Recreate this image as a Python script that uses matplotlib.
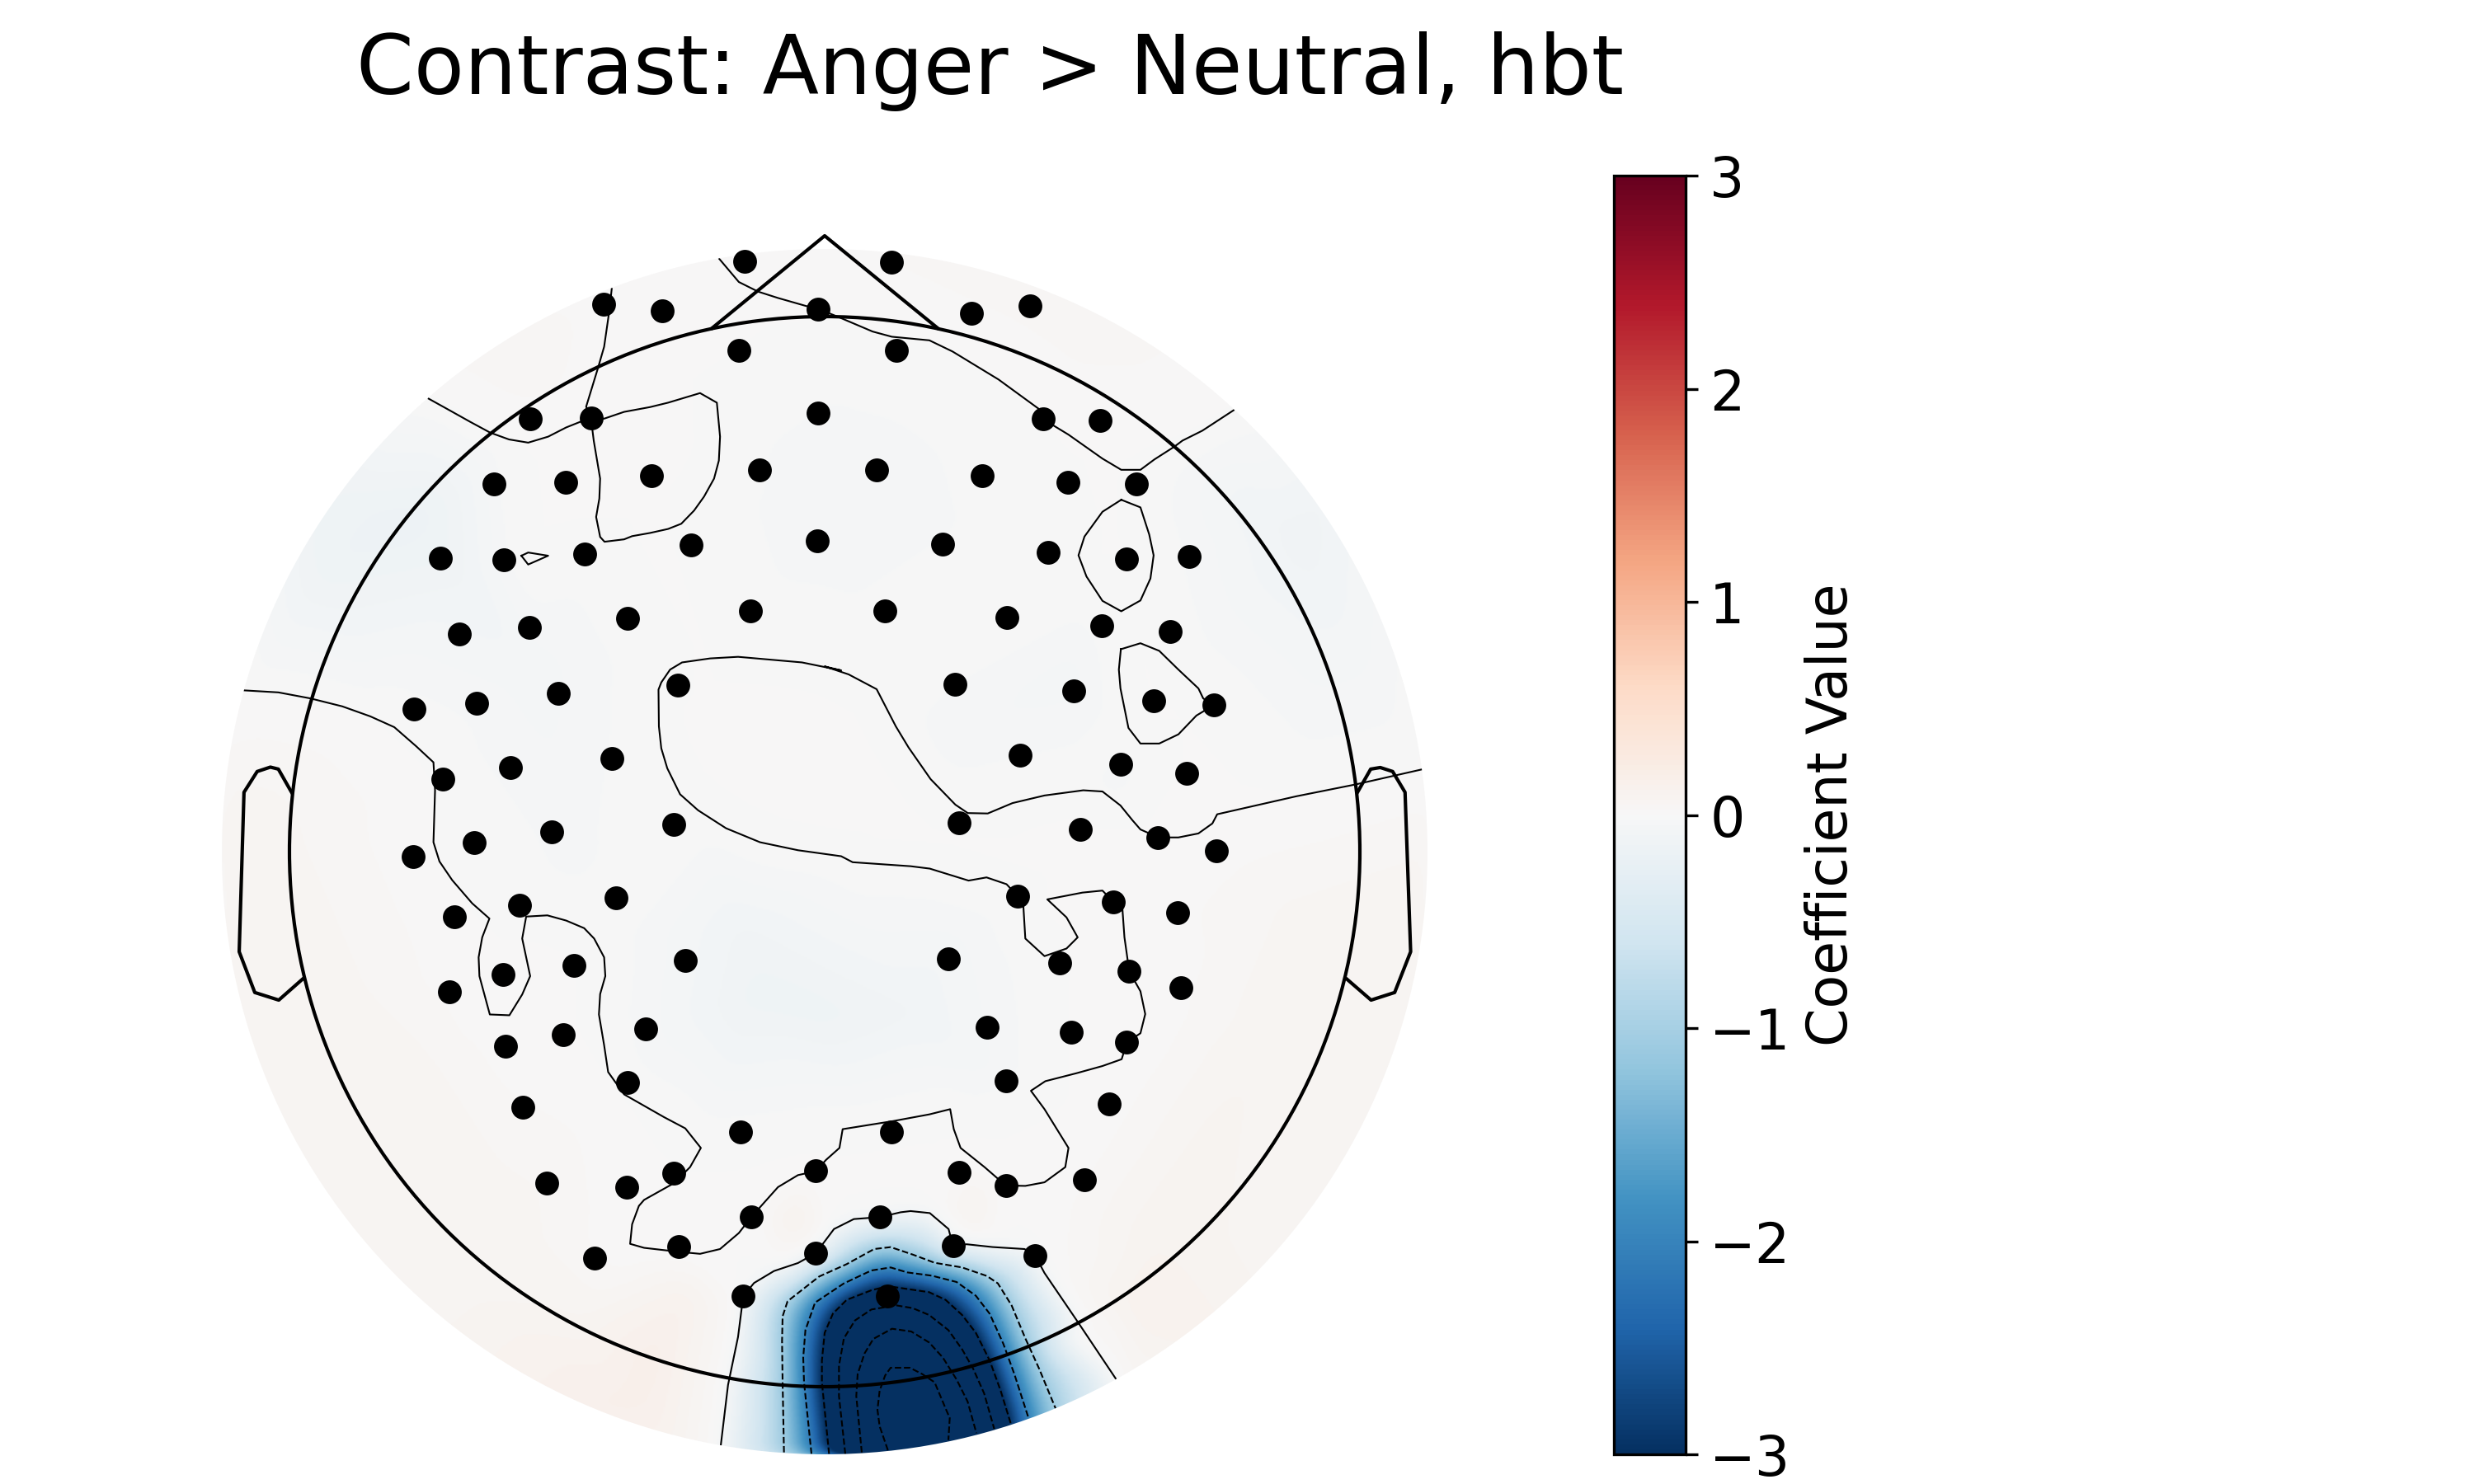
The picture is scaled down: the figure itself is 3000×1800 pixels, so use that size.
import numpy as np
import matplotlib
matplotlib.use("Agg")
import matplotlib.pyplot as plt
import matplotlib.tri as mtri
from matplotlib.cm import ScalarMappable
from matplotlib.colors import Normalize
from matplotlib.patches import Circle

TL = (260, 280)
TR = (1000, 280)
BL = (260, 1040)
BR = (1000, 1040)
QUAD_SCALE = 760 / 1568

sensors_tl = [(1327, 77), (973, 183), (1121, 200), (1510, 195), (1312, 299), (791, 471), (942, 469), (1511, 455),
              (700, 634), (878, 630), (1094, 613), (1364, 599), (566, 820), (724, 823), (927, 808), (1193, 786),
              (1509, 776), (613, 1009), (789, 993), (1034, 970), (1341, 951), (499, 1197), (657, 1183), (861, 1158),
              (1160, 1137), (572, 1371), (741, 1344), (995, 1321), (1150, 1486), (843, 1505), (649, 1531), (497, 1565)]
sensors_tr = [(168, 79), (368, 207), (513, 188), (180, 300), (546, 471), (690, 475), (129, 599), (395, 613),
              (608, 630), (779, 634), (296, 785), (560, 805), (756, 822), (911, 815), (150, 951), (455, 967),
              (694, 989), (865, 1003), (327, 1134), (624, 1152), (824, 1175), (973, 1187), (488, 1313), (740, 1334),
              (905, 1357), (337, 1482), (640, 1497), (834, 1519), (979, 1551)]
sensors_bl = [(764, 120), (1005, 101), (601, 149), (723, 293), (900, 270), (1179, 258), (589, 336), (872, 444),
              (1080, 429), (729, 473), (1034, 563), (772, 626), (1317, 687), (832, 815), (1032, 825), (1150, 790),
              (1505, 785), (1343, 900), (1162, 974), (1505, 990), (952, 1003), (1323, 1098)]
sensors_br = [(482, 96), (723, 112), (882, 139), (309, 254), (587, 265), (762, 285), (892, 326), (407, 425),
              (616, 438), (756, 463), (453, 560), (711, 617), (168, 687), (337, 789), (453, 821), (649, 807),
              (139, 900), (321, 972), (527, 997), (156, 1098)]

# zero contours
zero_a_tl = [(994, 145), (988, 200), (975, 290), (960, 342), (930, 440), (942, 469), (949, 525), (965, 620), (963, 670),
             (955, 716), (965, 766), (976, 778), (1025, 772), (1045, 764), (1090, 756), (1135, 746), (1168, 733),
             (1200, 700), (1225, 665), (1250, 620), (1262, 575), (1265, 515), (1257, 430), (1215, 406), (1135, 430),
             (1090, 441), (1025, 453), (975, 470), (942, 469), (915, 478), (880, 492), (835, 515), (785, 530),
             (737, 522), (690, 505), (640, 478), (590, 450), (536, 420)]
zero_b_tl = [(1263, 70), (1312, 128), (1360, 152), (1410, 168), (1480, 188), (1510, 195)]
zero_b_tr = [(33, 215), (120, 252), (168, 265), (262, 274), (320, 302), (435, 372), (535, 445), (546, 471), (610, 510),
             (695, 570), (742, 598), (790, 598), (825, 572), (875, 540), (895, 525), (945, 500), (1023, 449)]
zero_c_tl = [(768, 813), (785, 805), (835, 813), (785, 835), (768, 813)]
zero_d_tr = [(742, 673), (790, 692), (812, 760), (823, 812), (815, 870), (790, 925), (742, 952), (695, 926), (655, 865),
             (635, 812), (650, 765), (695, 703), (742, 673)]
zero_e_tr = [(741, 1047), (790, 1032), (837, 1051), (885, 1098), (935, 1145), (947, 1170), (973, 1187), (930, 1213),
             (885, 1260), (837, 1283), (790, 1283), (760, 1244), (740, 1145), (736, 1098), (741, 1047)]
zero_f_tr = [(1493, 1348), (1330, 1385), (1180, 1415), (982, 1460), (970, 1483), (935, 1508), (885, 1518), (835, 1518),
             (790, 1498), (770, 1475), (740, 1438), (695, 1403), (647, 1400), (550, 1413), (470, 1432), (408, 1458),
             (358, 1457), (327, 1436), (265, 1372), (210, 1293), (178, 1240), (130, 1147), (60, 1110), (0, 1090)]
zero_f_tl = [(1568, 1100), (1470, 1080), (1310, 1066), (1240, 1070), (1170, 1080), (1140, 1098), (1118, 1130),
             (1111, 1148), (1112, 1240), (1118, 1295), (1133, 1345), (1165, 1410), (1210, 1450), (1280, 1495),
             (1365, 1530), (1460, 1550), (1568, 1565)]
zero_f_br = [(70, 12), (215, 22), (263, 28), (360, 58), (405, 50), (455, 67), (482, 96), (497, 120), (502, 203),
             (550, 247), (605, 228), (633, 200), (605, 150), (557, 105), (645, 88), (695, 83), (723, 112), (745, 130),
             (750, 200), (762, 285), (790, 335), (802, 392), (790, 440), (756, 463), (743, 505), (695, 522), (630, 540),
             (552, 560), (516, 584), (550, 630), (610, 727), (602, 775), (550, 813), (502, 822), (453, 821), (400, 775),
             (340, 727), (323, 680), (314, 630), (262, 643), (170, 660), (45, 680), (37, 727)]
zero_f_bl = [(1530, 757), (1505, 785), (1460, 795), (1410, 825), (1343, 900), (1312, 940), (1265, 980), (1215, 992),
             (1162, 987), (1075, 977), (1040, 967), (1045, 918), (1062, 872), (1075, 857), (1150, 815), (1190, 775),
             (1217, 727), (1178, 678), (1125, 650), (1025, 593), (985, 537), (975, 470), (962, 393), (965, 342),
             (978, 297), (975, 250), (950, 203), (925, 177), (880, 158), (833, 145), (780, 148), (770, 203), (790, 297),
             (770, 343), (738, 395), (689, 393), (663, 297), (661, 250), (670, 200), (688, 153), (645, 115), (595, 57),
             (563, 10)]
zero_f_tl2 = [(548, 1530), (552, 1400), (548, 1330), (505, 1290), (450, 1242), (390, 1215), (320, 1190), (240, 1170),
              (160, 1155), (75, 1150)]
zero_g_bl = [(1267, 1470), (1285, 1320), (1310, 1200), (1323, 1098), (1350, 1065), (1400, 1035), (1460, 1015),
             (1505, 990), (1550, 930)]
zero_g_br = [(73, 905), (139, 900), (190, 888), (215, 885), (263, 890), (310, 930), (321, 972), (355, 968), (420, 975),
             (500, 980), (527, 997), (550, 1040), (635, 1165), (728, 1304)]

# negative contours, from the 3x crop of the blob
BLOB = (860, 1460)
neg_levels = [-1, -2, -3, -4, -5, -6]
neg_1 = [(272, 905), (267, 650), (265, 500), (267, 410), (285, 355), (400, 265), (500, 220), (600, 165), (660, 158),
         (740, 185), (820, 215), (920, 232), (1010, 263), (1050, 290), (1100, 370), (1150, 490), (1200, 600), (1260, 745)]
neg_2 = [(372, 910), (345, 650), (342, 560), (350, 460), (385, 360), (490, 290), (590, 243), (660, 232), (720, 250),
         (810, 262), (900, 285), (970, 335), (1020, 400), (1070, 510), (1110, 620), (1160, 775)]
neg_3 = [(436, 910), (410, 650), (410, 570), (420, 470), (450, 400), (500, 350), (590, 315), (650, 300), (800, 322),
         (860, 350), (920, 405), (970, 470), (1020, 570), (1060, 680), (1097, 800)]
neg_4 = [(495, 910), (472, 700), (472, 590), (490, 490), (530, 425), (590, 385), (680, 370), (740, 380), (800, 405),
         (870, 460), (920, 530), (960, 600), (1000, 690), (1037, 820)]
neg_5 = [(555, 905), (535, 700), (540, 620), (565, 545), (597, 492), (665, 455), (735, 465), (800, 505), (850, 560),
         (900, 640), (940, 720), (972, 835)]
neg_6 = [(650, 897), (620, 810), (612, 750), (620, 680), (640, 625), (660, 597), (730, 597), (775, 620), (820, 650),
         (862, 750), (875, 780), (870, 860)]

# faint tints of the field away from the contours, and below the rim
bg_x = [240, 1000, 1760, 240, 1760, 240, 1760, 468, 914, 1582, 793, 963, 1460, 1184, 1388, 1557, 405, 284, 648, 1315,
        1000, 650, 1300, 700, 1150, 874, 1353, 560, 1480, 800, 1200,
        900, 1000, 1100, 850, 1150, 1350, 400, 520, 430, 560, 1500, 1600,
        500, 600, 700, 400, 1500, 1400, 1300, 1560, 760, 830]
bg_y = [260, 260, 260, 1033, 1033, 1800, 1800, 643, 1210, 653, 1646, 1476, 1389, 1466, 1583, 1234, 1428, 1007, 425, 343,
        600, 820, 820, 1050, 900, 1800, 1720, 1560, 1500, 1740, 1300,
        1130, 1230, 1230, 1230, 1150, 950, 680, 620, 600, 700, 600, 800,
        1300, 1500, 1600, 1200, 1300, 1500, 1620, 1100, 1700, 1580]
bg_val = [0.02, 0.03, 0.02, 0.05, 0.05, 0.05, 0.05, -0.16, -0.13, -0.11, 0.16, 0.12, 0.08, 0.1, 0.12, 0.07, 0.07, 0.07,
          0.05, 0.05, -0.05, -0.06, -0.06, -0.03, -0.04, 0.0, 0.0, 0.06, 0.07, 0.12, -0.05,
          -0.1, -0.13, -0.1, -0.08, -0.06, -0.07, -0.14, -0.15, -0.12, -0.1, -0.08, -0.06,
          0.06, 0.07, 0.07, 0.06, 0.07, 0.09, 0.09, 0.05, 0.15, 0.12]
blob_floor_x = [951, 984, 1005, 1025, 1045, 1077, 1150, 1184, 1206, 1226, 1247, 1280]
blob_floor_val = [-1, -2, -3, -4, -5, -6, -6, -5, -4, -3, -2, -1]

ear_left_tl = [(193, 1405), (160, 1347), (140, 1342), (107, 1353), (74, 1405)]
ear_left_bl = [(62, 236), (101, 338), (161, 357), (220, 305)]
ear_right_tr = [(1333, 1405), (1366, 1347), (1390, 1343), (1421, 1353), (1452, 1405)]
ear_right_br = [(1466, 236), (1426, 338), (1367, 357), (1307, 305)]

cbar_ticks = [-3, -2, -1, 0, 1, 2, 3]


def from_crop(points, corner, scale=QUAD_SCALE):
    return np.array(points, dtype=float) * scale + corner


def join(*parts):
    return np.vstack([from_crop(p, c) for p, c in parts])


sensors = join((sensors_tl, TL), (sensors_tr, TR), (sensors_bl, BL), (sensors_br, BR))

zero_lines = [
    from_crop(zero_a_tl, TL),
    join((zero_b_tl, TL), (zero_b_tr, TR)),
    from_crop(zero_c_tl, TL),
    from_crop(zero_d_tr, TR),
    from_crop(zero_e_tr, TR),
    join((zero_f_tr, TR), (zero_f_tl, TL), (zero_f_br, BR), (zero_f_bl, BL), (zero_f_tl2, TL)),
    join((zero_g_bl, BL), (zero_g_br, BR)),
]
neg_lines = [from_crop(p, BLOB, 1 / 3) for p in [neg_1, neg_2, neg_3, neg_4, neg_5, neg_6]]

# field samples: contour points carry their level
xy = [np.vstack(zero_lines)]
val = [np.zeros(len(xy[0]))]
for line, level in zip(neg_lines, neg_levels):
    xy.append(line)
    val.append(np.full(len(line), level, dtype=float))
xy.append(np.column_stack([bg_x, bg_y]))
val.append(np.array(bg_val))
xy.append(np.column_stack([blob_floor_x, np.full(len(blob_floor_x), 1800)]))
val.append(np.array(blob_floor_val, dtype=float))
xy = np.vstack(xy)
val = np.concatenate(val)
xy, idx = np.unique(xy, axis=0, return_index=True)
val = val[idx]

tri = mtri.Triangulation(xy[:, 0], xy[:, 1])
interp = mtri.LinearTriInterpolator(tri, val)
gx, gy = np.meshgrid(np.arange(260, 1741, 2.0), np.arange(292, 1775, 2.0))
field = np.ma.filled(interp(gx, gy), 0.0)

# soften the facets
kernel = np.ones(15) / 15
for _ in range(2):
    field = np.apply_along_axis(lambda r: np.convolve(r, kernel, mode="same"), 0, field)
    field = np.apply_along_axis(lambda r: np.convolve(r, kernel, mode="same"), 1, field)

fig = plt.figure(figsize=(10, 6), dpi=300)
ax = fig.add_axes([0, 0, 1, 1])
ax.set_axis_off()

norm = Normalize(-3, 3)
rim = Circle((1000, 1033), 731, transform=ax.transData, facecolor="none", edgecolor="none")
ax.add_patch(rim)
im = ax.imshow(field, extent=(259, 1741, 1775, 291), cmap="RdBu_r", norm=norm, interpolation="bilinear", aspect="auto")
im.set_clip_path(rim)

for line in zero_lines:
    l, = ax.plot(line[:, 0], line[:, 1], color="k", lw=0.5)
    l.set_clip_path(rim)
for line in neg_lines:
    l, = ax.plot(line[:, 0], line[:, 1], color="k", lw=0.5, ls="--")
    l.set_clip_path(rim)

ax.add_patch(Circle((1000, 1033), 649, fill=False, edgecolor="k", lw=1))
nose = np.array([(863.5, 398), (1000, 286), (1137, 398)])
ax.plot(nose[:, 0], nose[:, 1], color="k", lw=1)
ear_l = join((ear_left_tl, TL), (ear_left_bl, BL))
ear_r = join((ear_right_tr, TR), (ear_right_br, BR))
ax.plot(ear_l[:, 0], ear_l[:, 1], color="k", lw=1)
ax.plot(ear_r[:, 0], ear_r[:, 1], color="k", lw=1)

ax.scatter(sensors[:, 0], sensors[:, 1], s=48, c="k", linewidths=0, zorder=5)

ax.set_xlim(0, 3000)
ax.set_ylim(1800, 0)
ax.text(1200, 114, "Contrast: Anger > Neutral, hbt", fontsize=24, ha="center", va="baseline")

cax = fig.add_axes([1957 / 3000, 1 - 1764 / 1800, 87 / 3000, (1764 - 213) / 1800])
cb = fig.colorbar(ScalarMappable(norm=norm, cmap="RdBu_r"), cax=cax, ticks=cbar_ticks)
cb.ax.tick_params(labelsize=16)
cb.set_label("Coefficient Value", fontsize=16)

fig.savefig("out.png", dpi=300)
